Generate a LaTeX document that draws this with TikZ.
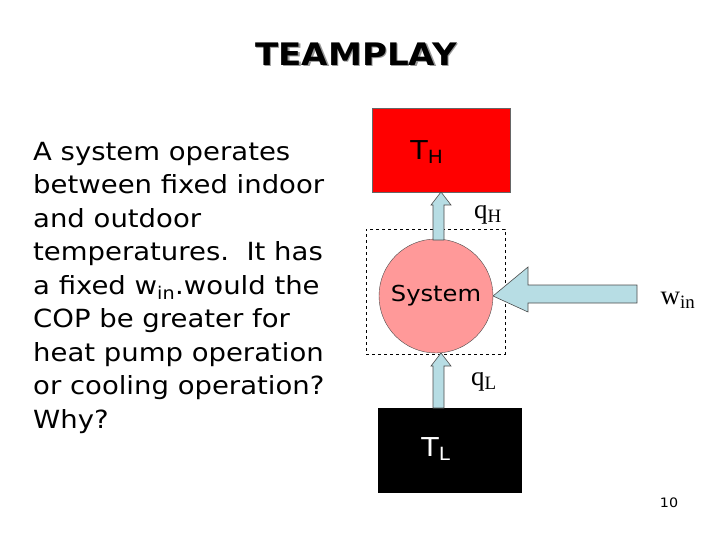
\documentclass[tikz,border=0pt]{standalone}
\usepackage{fontspec}
\setmainfont{DejaVu Sans}[FakeStretch=1.1]
\newfontfamily\serif{Liberation Serif}
\begin{document}
\begin{tikzpicture}[x=1pt,y=-1pt,
  arr/.style={fill={rgb,255:red,183;green,221;blue,228},draw=black!70,line width=0.6pt},
  body/.style={anchor=north west,align=left,font=\fontsize{25}{33.5}\selectfont,inner sep=0pt}]
\useasboundingbox (0,0) rectangle (720,540);
\node[font=\bfseries\fontsize{31}{34}\selectfont,text=black!40] at (357.5,55.5) {TEAMPLAY};
\node (title) [font=\bfseries\fontsize{31}{34}\selectfont] at (356,54) {TEAMPLAY};
\node (txt) [body] at (33,142) {A system operates\\between fixed indoor\\and outdoor\\temperatures.\ \ It has\\a fixed w\textsubscript{in}.would the\\COP be greater for\\heat pump operation\\or cooling operation?\\Why?};
\node (hot) [draw=black!60,fill={rgb,255:red,255;green,0;blue,0},minimum width=138,minimum height=84,inner sep=0,anchor=north west] at (372,108) {};
\node at (427,152) {\fontsize{26}{28}\selectfont T\textsubscript{H}};
\node (cold) [fill=black,minimum width=144,minimum height=85,inner sep=0,anchor=north west] at (378,408) {};
\node[text=white] at (436,449) {\fontsize{26}{28}\selectfont T\textsubscript{L}};
\node (bnd) [draw,dashed,minimum width=139,minimum height=125,inner sep=0,anchor=north west] at (366,229) {};
\node (sys) [circle,draw=black!70,fill={rgb,255:red,255;green,153;blue,153},minimum size=114,inner sep=0] at (436,296) {\fontsize{22}{24}\selectfont System};
\draw[arr] (433,240) -- (433,205) -- (431,205) -- (441,192) -- (451,205) -- (444,205) -- (444,240) -- cycle;
\draw[arr] (433,408) -- (433,366) -- (431,366) -- (441,353) -- (451,366) -- (444,366) -- (444,408) -- cycle;
\draw[arr] (493,296) -- (528,267) -- (528,285) -- (637,285) -- (637,303) -- (528,303) -- (528,312) -- cycle;
\node at (488,215) {\serif\fontsize{27}{29}\selectfont q\textsubscript{H}};
\node at (484,382) {\serif\fontsize{27}{29}\selectfont q\textsubscript{L}};
\node (win) at (678,300) {\serif\fontsize{27}{29}\selectfont w\textsubscript{in}};
\node (pg) [font=\fontsize{13}{15}\selectfont] at (669,503) {10};
\end{tikzpicture}
\end{document}
